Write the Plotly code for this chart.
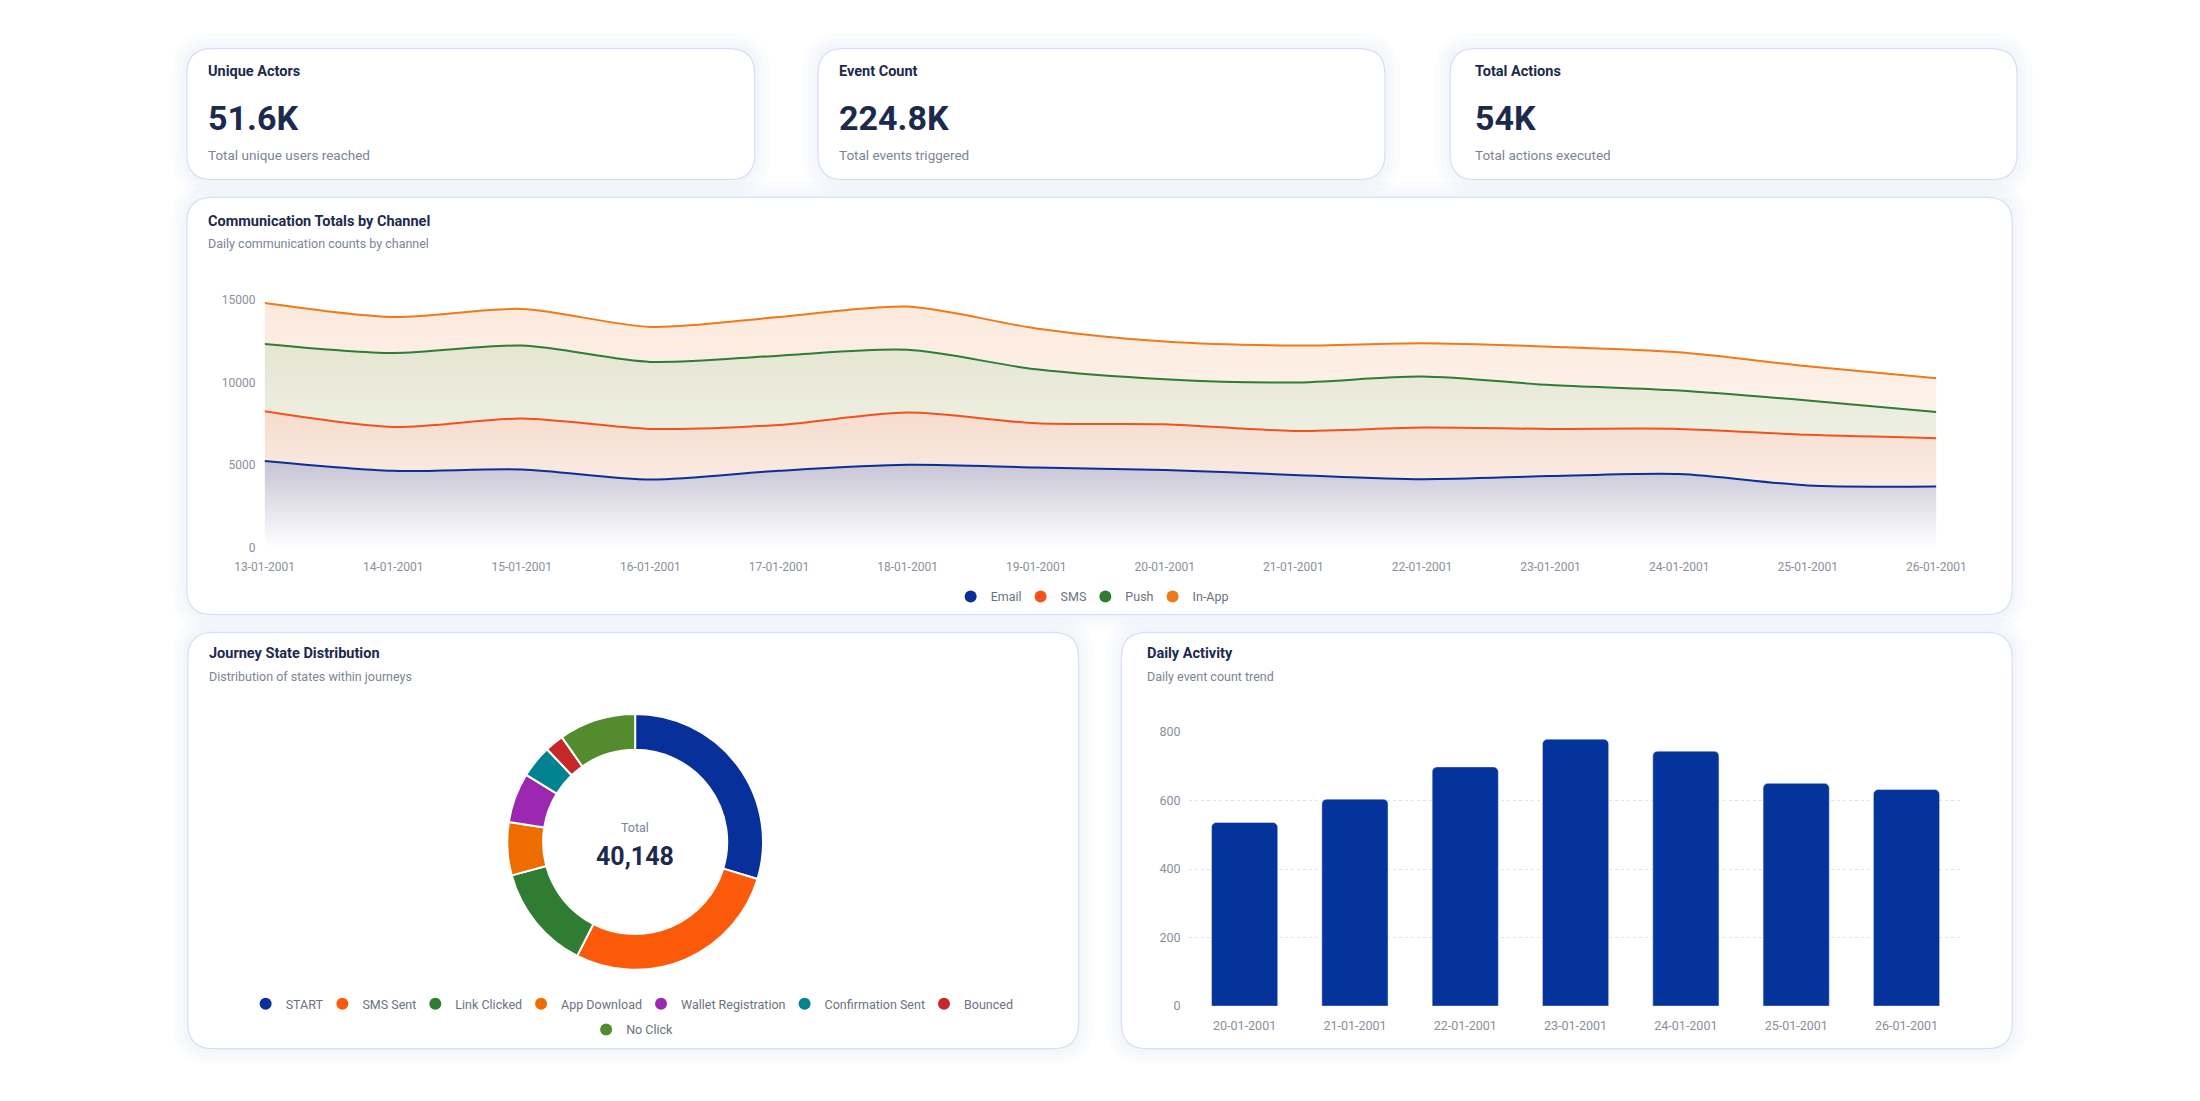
import plotly.graph_objects as go

# page is 2200x1101 and the body keeps an 8px margin, so the figure is a bit smaller
W, H = 2184, 1085
OFF = 8

comm_dates = ["13-01-2001", "14-01-2001", "15-01-2001", "16-01-2001", "17-01-2001",
              "18-01-2001", "19-01-2001", "20-01-2001", "21-01-2001", "22-01-2001",
              "23-01-2001", "24-01-2001", "25-01-2001", "26-01-2001"]
email = [5250, 4650, 4730, 4120, 4650, 5010, 4850, 4700, 4400, 4140, 4330, 4460, 3760, 3700]
sms = [3010, 2660, 3090, 3070, 2780, 3170, 2680, 2770, 2670, 3130, 2860, 2730, 3070, 2930]
push = [4080, 4480, 4420, 4060, 4200, 3800, 3270, 2730, 2930, 3090, 2660, 2320, 2080, 1590]
in_app = [2480, 2180, 2220, 2120, 2340, 2620, 2480, 2280, 2240, 2020, 2320, 2320, 2080, 2040]

states = ["START", "SMS Sent", "Link Clicked", "App Download", "Wallet Registration",
          "Confirmation Sent", "Bounced", "No Click"]
state_counts = [11920, 11160, 5340, 2690, 2530, 1650, 960, 3898]

activity_dates = ["20-01-2001", "21-01-2001", "22-01-2001", "23-01-2001",
                  "24-01-2001", "25-01-2001", "26-01-2001"]
activity_counts = [536, 604, 698, 779, 744, 650, 632]

kpi_titles = ["Unique Actors", "Event Count", "Total Actions"]
kpi_values = ["51.6K", "224.8K", "54K"]
kpi_notes = ["Total unique users reached", "Total events triggered", "Total actions executed"]

NAVY = "#1c2a4d"
GREY = "#7c8495"
TICK = "#8a8f9c"
FONT = "Roboto"

channel_colors = {"Email": "#0b2e98", "SMS": "#f4511e", "Push": "#2e7d32", "In-App": "#ef7a1a"}
channel_fills = {
    "Email": ["rgb(255,255,255)", "rgb(198,195,212)"],
    "SMS": ["rgb(251,236,228)", "rgb(246,220,205)"],
    "Push": ["rgb(238,240,226)", "rgb(229,229,210)"],
    "In-App": ["rgb(253,242,235)", "rgb(252,233,220)"],
}
state_colors = ["#08309a", "#fb5a0a", "#2e7d32", "#ef6c00", "#9c27b0", "#00838f", "#c62828", "#558b2f"]
BAR = "#05339c"


def px(x):
    return (x - OFF) / W


def py(y):
    return 1 - (y - OFF) / H


def rrect(x0, y0, x1, y1, r, **kw):
    X0, X1, Yt, Yb = px(x0), px(x1), py(y0), py(y1)
    rx, ry = r / W, r / H
    path = (f"M {X0+rx},{Yt} L {X1-rx},{Yt} Q {X1},{Yt} {X1},{Yt-ry} "
            f"L {X1},{Yb+ry} Q {X1},{Yb} {X1-rx},{Yb} L {X0+rx},{Yb} "
            f"Q {X0},{Yb} {X0},{Yb+ry} L {X0},{Yt-ry} Q {X0},{Yt} {X0+rx},{Yt} Z")
    return dict(type="path", path=path, xref="paper", yref="paper", layer="below", **kw)


def text(x, y, s, size, color, bold=False, anchor="left"):
    return dict(x=px(x), y=py(y), xref="paper", yref="paper", text=f"<b>{s}</b>" if bold else s,
                showarrow=False, xanchor=anchor, yanchor="middle",
                font=dict(family=FONT, size=size, color=color))


fig = go.Figure()

# stacked area chart
series = [("Email", email), ("SMS", sms), ("Push", push), ("In-App", in_app)]
for name, vals in series:
    fig.add_trace(go.Scatter(
        x=comm_dates, y=vals, name=name, stackgroup="comm", mode="lines",
        line=dict(color=channel_colors[name], width=2, shape="spline", smoothing=0.8),
        fillgradient=dict(type="vertical", colorscale=[[0, channel_fills[name][0]], [1, channel_fills[name][1]]]),
        showlegend=False, hoverinfo="skip",
    ))
for name, vals in series:
    fig.add_trace(go.Scatter(x=[None], y=[None], mode="markers", name=name, legend="legend",
                             marker=dict(size=12, color=channel_colors[name])))

# donut
fig.add_trace(go.Pie(
    labels=states, values=state_counts, hole=0.72, sort=False, direction="clockwise", rotation=0,
    marker=dict(colors=state_colors, line=dict(color="white", width=2)),
    textinfo="none", showlegend=False,
    domain=dict(x=[px(490.5), px(753.5)], y=[py(977), py(714)]),
))
for i, (s, c) in enumerate(zip(states, state_colors)):
    fig.add_trace(go.Scatter(x=[None], y=[None], mode="markers", name=s,
                             legend="legend2" if i < 7 else "legend3",
                             marker=dict(size=12, color=c)))

# daily activity bars
fig.add_trace(go.Bar(x=activity_dates, y=activity_counts, marker=dict(color=BAR, cornerradius=5),
                     xaxis="x2", yaxis="y2", showlegend=False))

shapes = []
cards = [(161, 41, 745, 174), (810, 41, 1393, 174), (1460, 41, 2043, 174),
         (161, 192, 2038, 615), (162, 633, 1078, 1055), (1122, 633, 2038, 1055)]
for (x0, y0, x1, y1) in cards:
    for g in (16, 10, 5):
        shapes.append(rrect(x0 - g, y0 - g, x1 + g, y1 + g, 26 + g,
                            fillcolor="rgba(222,230,250,0.12)", line=dict(width=0)))
for (x0, y0, x1, y1) in cards:
    shapes.append(rrect(x0, y0, x1, y1, 26, fillcolor="white", line=dict(color="#d5dff4", width=1.2)))

ann = []
for i, x in enumerate([181, 830, 1484]):
    ann.append(text(x, 64, kpi_titles[i], 14.5, NAVY, bold=True))
    ann.append(text(x, 111, kpi_values[i], 34, NAVY, bold=True))
    ann.append(text(x, 149, kpi_notes[i], 13.5, GREY))
ann.append(text(181, 216, "Communication Totals by Channel", 14.5, NAVY, bold=True))
ann.append(text(181, 239, "Daily communication counts by channel", 12.5, GREY))
ann.append(text(182, 654, "Journey State Distribution", 14.5, NAVY, bold=True))
ann.append(text(182, 678, "Distribution of states within journeys", 12.5, GREY))
ann.append(text(1146, 654, "Daily Activity", 14.5, NAVY, bold=True))
ann.append(text(1146, 678, "Daily event count trend", 12.5, GREY))
ann.append(text(622, 831, "Total", 12.5, GREY, anchor="center"))
ann.append(text(622, 860, f"{sum(state_counts):,}", 25, NAVY, bold=True, anchor="center"))

legend_style = dict(orientation="h", xref="paper", yref="paper", xanchor="center", yanchor="middle",
                    bgcolor="rgba(0,0,0,0)", font=dict(family=FONT, size=12.5, color="#6b7280"),
                    itemclick=False, itemdoubleclick=False, traceorder="normal", indentation=-6)

fig.update_layout(
    width=W, height=H, margin=dict(l=0, r=0, t=0, b=0),
    paper_bgcolor="white", plot_bgcolor="rgba(0,0,0,0)",
    font=dict(family=FONT, color=TICK),
    shapes=shapes, annotations=ann, bargap=0.4,
    legend=dict(x=px(1095), y=py(597), **legend_style),
    legend2=dict(x=px(622), y=py(1010), **legend_style),
    legend3=dict(x=px(622), y=py(1036), **legend_style),
    xaxis=dict(domain=[px(241), px(1960)], type="category", range=[0, len(comm_dates) - 1],
               showgrid=False, zeroline=False, showline=False, ticks="",
               tickfont=dict(size=12, color=TICK), ticklabelstandoff=10),
    yaxis=dict(domain=[py(547), py(296)], range=[0, 15000], tickvals=[0, 5000, 10000, 15000],
               tickformat="d", showgrid=True, gridcolor="#dfe3ea", griddash="dot", zeroline=False,
               showline=False, ticks="", tickfont=dict(size=12, color=TICK), ticklabelstandoff=8),
    xaxis2=dict(domain=[px(1192), px(1986)], anchor="y2", type="category",
                showgrid=False, zeroline=False, showline=False, ticks="",
                tickfont=dict(size=12.5, color=TICK), ticklabelstandoff=10),
    yaxis2=dict(domain=[py(1012), py(734)], anchor="x2", range=[0, 800],
                tickvals=[0, 200, 400, 600, 800], showgrid=True, gridcolor="#dfe3ea", griddash="dot",
                zeroline=False, showline=False, ticks="", tickfont=dict(size=12.5, color=TICK),
                ticklabelstandoff=8),
)

fig.write_html("out.html")
